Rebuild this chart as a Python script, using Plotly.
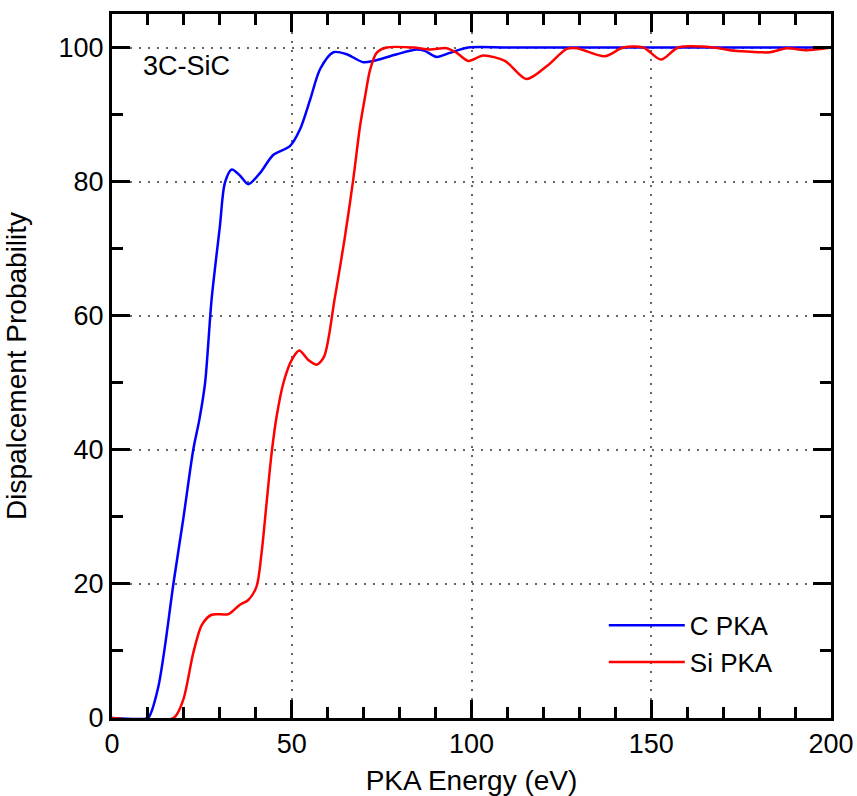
import plotly.graph_objects as go

# C PKA displacement probability
c_energy = [0, 10, 10.6, 12.9, 14.7, 17.1, 19.8, 22.6, 24.3, 25.9, 27.7, 30.0, 31.4,
            33.3, 35.6, 37.9, 41.2, 44.9, 49.5, 52.3, 55.1, 57.9, 61.6, 65.3, 69.9,
            72.7, 79.2, 84.8, 87.0, 90.3, 94, 99.1, 110, 130, 160, 200]
c_prob = [0, 0, 0.45, 4.7, 10.6, 20.1, 29.6, 40, 44.5, 50, 62.4, 73.3, 79.8,
          81.8, 80.9, 79.6, 81.3, 84, 85.3, 87.8, 92.2, 96.8, 99.3, 99.0, 97.8,
          98.0, 99.0, 99.7, 99.5, 98.6, 99.2, 100, 100, 100, 100, 100]

# Si PKA displacement probability
si_energy = [0, 17.1, 19.8, 22.6, 25, 27.7, 32.4, 35.6, 37.9, 40.2, 41.6, 43, 44.4,
             45.8, 47.7, 50, 52.1, 54.6, 56.9, 59, 61.9, 64.8, 67.1, 69, 70.4, 71.8,
             73.6, 76.4, 83.8, 88.5, 93.1, 95.9, 99.1, 103.3, 109.3, 115.3,
             120.9, 126.5, 129.3, 137.1, 142.2, 147.8, 152.7, 157.5, 167.3, 171.9,
             176.6, 183, 187.7, 193.2, 200]
si_prob = [0, 0, 2.7, 9.7, 13.9, 15.4, 15.5, 16.9, 17.6, 19.6, 24.6, 32.1, 39.5,
           45, 50, 53.4, 54.8, 53.4, 52.7, 53.9, 62.4, 71.8, 80.3, 88.3, 92.7, 96.7,
           99.2, 100, 100, 99.7, 99.9, 99.2, 98, 98.8, 98, 95.3,
           97.2, 99.8, 99.9, 98.7, 100, 100, 98.2, 100, 100, 99.6,
           99.4, 99.3, 99.9, 99.6, 100]

x_ticks = [0, 50, 100, 150, 200]
y_ticks = [0, 20, 40, 60, 80, 100]

FONT = "Liberation Sans, Arial, sans-serif"

fig = go.Figure()
fig.add_trace(go.Scatter(x=c_energy, y=c_prob, mode="lines", name="C PKA",
                         line=dict(color="#0000ff", width=2.5, shape="spline", smoothing=0.8)))
fig.add_trace(go.Scatter(x=si_energy, y=si_prob, mode="lines", name="Si PKA",
                         line=dict(color="#ff0000", width=2.5, shape="spline", smoothing=0.8)))

axis_common = dict(
    showline=True, linecolor="black", linewidth=3, mirror="allticks",
    ticks="inside", ticklen=18, tickwidth=2.5, tickcolor="black",
    showgrid=True, gridcolor="#666666", gridwidth=1.5, griddash="2px,7px",
    zeroline=False, automargin=False,
    tickfont=dict(family=FONT, size=27, color="black"),
    minor=dict(ticks="inside", ticklen=11, tickwidth=2.5, tickcolor="black", showgrid=False),
)

fig.update_xaxes(range=[0, 200], tickvals=x_ticks,
                 minor_dtick=10, minor_tick0=0,
                 title=dict(text="PKA Energy (eV)", font=dict(family=FONT, size=28, color="black"),
                            standoff=12),
                 **axis_common)
fig.update_yaxes(range=[0, 105], tickvals=y_ticks,
                 minor_dtick=10, minor_tick0=0,
                 title=dict(text="Dispalcement Probability", font=dict(family=FONT, size=28, color="black"),
                            standoff=24),
                 **axis_common)

fig.add_annotation(x=8.1, y=97.2, xref="x", yref="y", text="3C-SiC", showarrow=False,
                   xanchor="left", yanchor="middle",
                   font=dict(family=FONT, size=27, color="black"))

fig.update_layout(
    width=857, height=796,
    margin=dict(l=112, r=26, t=14, b=78),
    paper_bgcolor="white", plot_bgcolor="white",
    showlegend=True,
    legend=dict(x=0.684, y=0.165, xanchor="left", yanchor="top",
                bgcolor="rgba(0,0,0,0)", font=dict(family=FONT, size=26, color="black"),
                itemwidth=76, tracegroupgap=0),
    font=dict(family=FONT),
)

fig.write_html("out.html", config={"displayModeBar": False},
               post_script="document.body.style.margin='0';document.body.style.overflow='hidden';")
